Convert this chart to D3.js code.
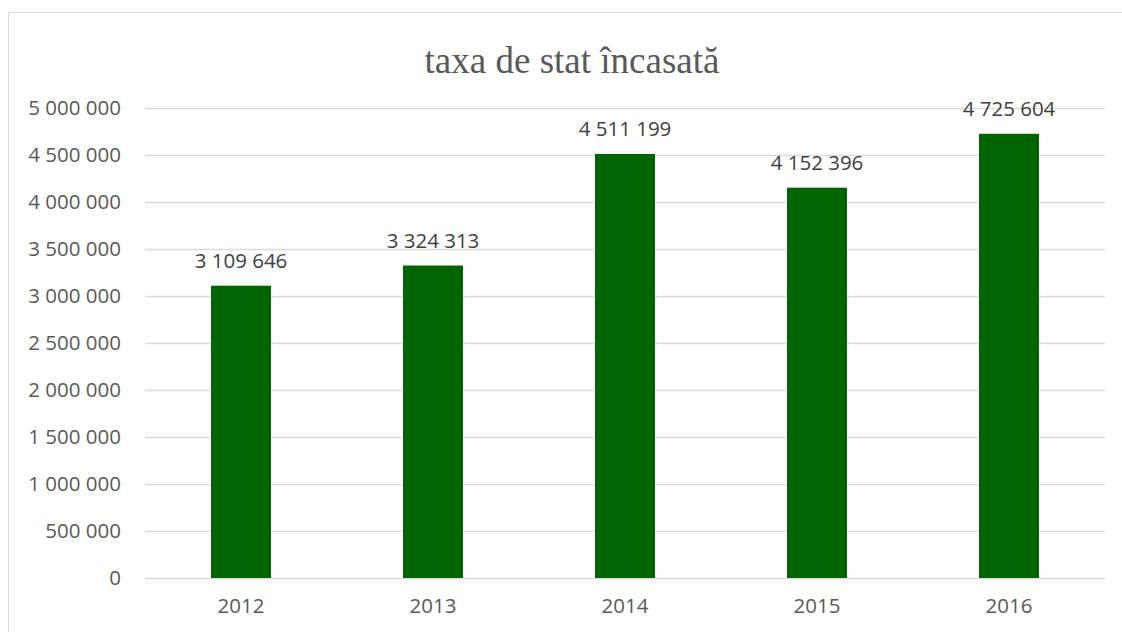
<!DOCTYPE html>
<html>
<head>
<meta charset="utf-8">
<script src="https://cdn.jsdelivr.net/npm/d3@7"></script>
<style>
  body { margin: 0; background: #fff; }
</style>
</head>
<body>
<div id="chart"></div>
<script>
const years = ['2012', '2013', '2014', '2015', '2016'];
const values = [3109646, 3324313, 4511199, 4152396, 4725604];
const yTicks = [0, 500000, 1000000, 1500000, 2000000, 2500000, 3000000, 3500000, 4000000, 4500000, 5000000];
const title = 'taxa de stat încasată';

const W = 1122, H = 632;
const margin = { top: 108, right: 17, bottom: 54, left: 145 };
const width = W - margin.left - margin.right;
const height = H - margin.top - margin.bottom;

// numbers with space as thousands separator
const fmt = v => d3.format(',')(v).replace(/,/g, ' ');

const svg = d3.select('#chart').append('svg')
    .attr('width', W)
    .attr('height', H);

// chart frame (right and bottom edges run off the picture)
svg.append('rect')
    .attr('x', 8.5).attr('y', 12.5)
    .attr('width', W + 10).attr('height', H)
    .attr('fill', 'none')
    .attr('stroke', '#d9d9d9');

svg.append('text')
    .attr('x', 572)
    .attr('y', 73)
    .attr('text-anchor', 'middle')
    .style('font-family', '"Liberation Serif", "DejaVu Serif", serif')
    .style('font-size', '37px')
    .style('fill', '#595959')
    .text(title);

const g = svg.append('g')
    .attr('transform', `translate(${margin.left}, ${margin.top})`);

const x = d3.scaleBand()
    .domain(years)
    .range([0, width])
    .paddingInner(0.6875)
    .paddingOuter(0.34375);

const y = d3.scaleLinear()
    .domain([0, 5000000])
    .range([height, 0]);

// gridlines
g.append('g')
    .selectAll('line')
    .data(yTicks)
    .enter()
    .append('line')
    .attr('x1', 0)
    .attr('x2', width)
    .attr('y1', d => Math.round(y(d)) + 0.5)
    .attr('y2', d => Math.round(y(d)) + 0.5)
    .attr('stroke', '#d9d9d9')
    .attr('stroke-width', 1.3);

const yAxis = g.append('g')
    .call(d3.axisLeft(y).tickValues(yTicks).tickFormat(fmt).tickSize(0).tickPadding(24));
yAxis.select('.domain').remove();
yAxis.selectAll('text')
    .style('font-family', '"Open Sans", sans-serif')
    .style('font-size', '20.5px')
    .style('fill', '#595959');

const xAxis = g.append('g')
    .attr('transform', `translate(0, ${height})`)
    .call(d3.axisBottom(x).tickSize(0).tickPadding(20));
xAxis.select('.domain').remove();
xAxis.selectAll('text')
    .style('font-family', '"Open Sans", sans-serif')
    .style('font-size', '20.5px')
    .style('fill', '#595959');

g.selectAll('.bar')
    .data(values)
    .enter()
    .append('rect')
    .attr('class', 'bar')
    .attr('x', (d, i) => x(years[i]))
    .attr('y', d => y(d))
    .attr('width', x.bandwidth())
    .attr('height', d => y(0) - y(d))
    .attr('fill', '#006400');

g.selectAll('.label')
    .data(values)
    .enter()
    .append('text')
    .attr('class', 'label')
    .attr('x', (d, i) => x(years[i]) + x.bandwidth() / 2)
    .attr('y', d => y(d) - 18)
    .attr('text-anchor', 'middle')
    .style('font-family', '"Open Sans", sans-serif')
    .style('font-size', '20.5px')
    .style('fill', '#404040')
    .text(d => fmt(d));
</script>
</body>
</html>
